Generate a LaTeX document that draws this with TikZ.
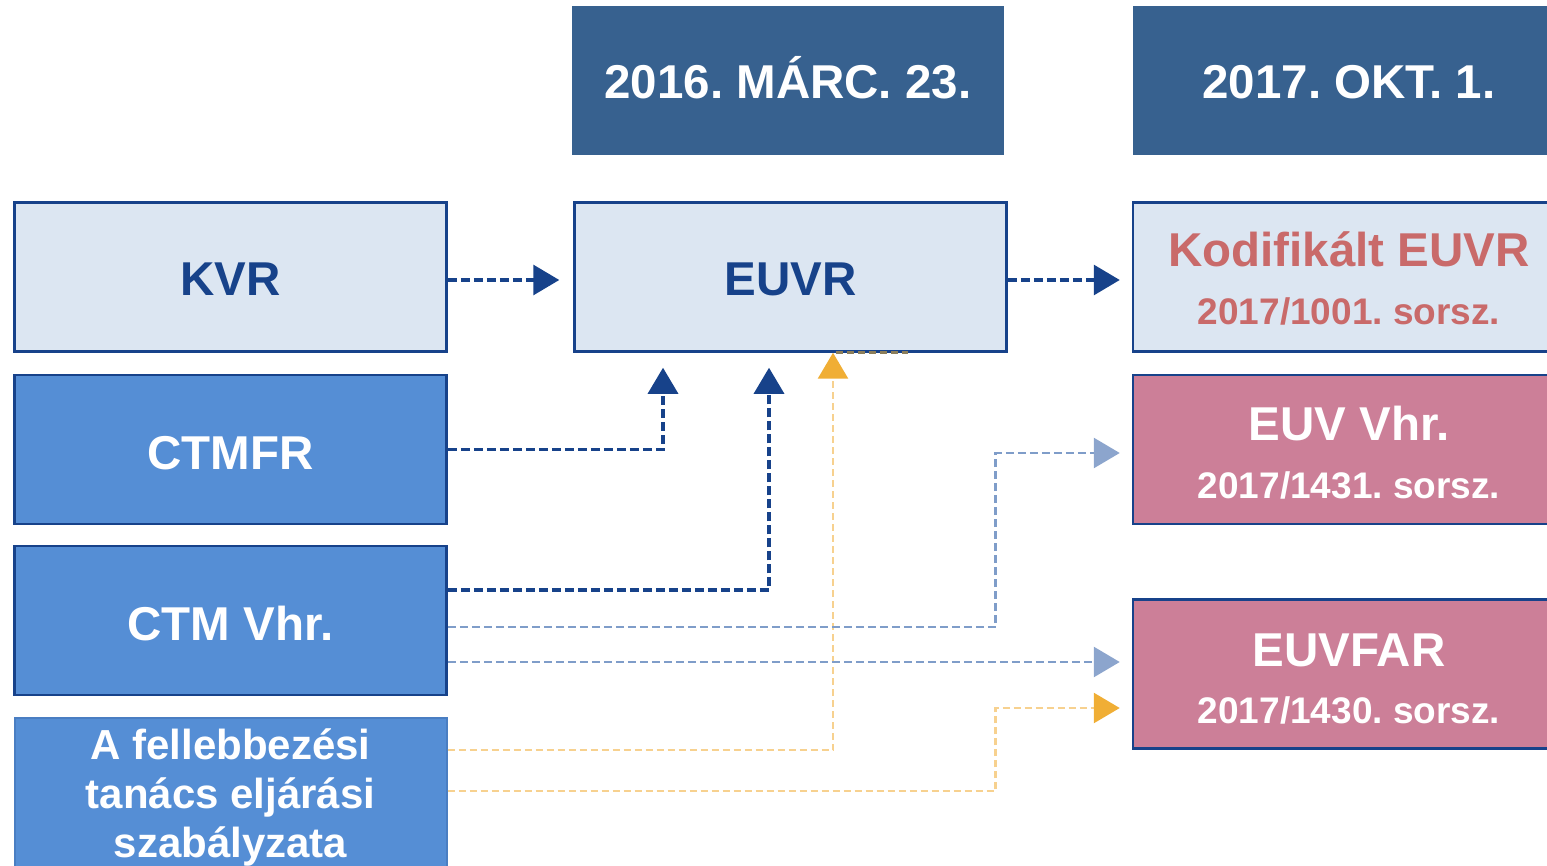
\documentclass[tikz,border=0pt]{standalone}
\usepackage{fontspec}
\setmainfont{Liberation Sans}
\usetikzlibrary{arrows.meta}
\frenchspacing
\definecolor{datebg}{HTML}{37618F}
\definecolor{lightbg}{HTML}{DCE6F2}
\definecolor{darkblue}{HTML}{17428A}
\definecolor{midblue}{HTML}{558ED5}
\definecolor{midborder}{HTML}{4A7EC2}
\definecolor{pinkbg}{HTML}{CC7F98}
\definecolor{redtext}{HTML}{C96A6A}
\definecolor{lbline}{HTML}{7F9DC9}
\definecolor{lbhead}{HTML}{8CA5CD}
\definecolor{yline}{HTML}{F7D18F}
\definecolor{yhead}{HTML}{F0AE35}
\definecolor{olive}{HTML}{8C7E5A}
\tikzset{
  datebox/.style={rectangle, fill=datebg, minimum width=432pt, minimum height=149pt, inner sep=0pt},
  lightbox/.style={rectangle, fill=lightbg, draw=darkblue, line width=2.5pt, minimum width=432pt, minimum height=149pt, inner sep=0pt},
  bluebox/.style={rectangle, fill=midblue, draw=darkblue, line width=2.5pt, minimum width=432pt, minimum height=149pt, inner sep=0pt},
  blueboxb/.style={rectangle, fill=midblue, draw=midborder, line width=2pt, minimum width=432pt, minimum height=149pt, inner sep=0pt},
  pinkbox/.style={rectangle, fill=pinkbg, draw=darkblue, line width=2.5pt, minimum width=432pt, minimum height=149pt, inner sep=0pt},
  big/.style={anchor=base, inner sep=0pt, font=\fontsize{47.5}{50}\selectfont\bfseries},
  small/.style={anchor=base, inner sep=0pt, font=\fontsize{37}{40}\selectfont\bfseries},
  mid/.style={anchor=base, inner sep=0pt, font=\fontsize{42}{45}\selectfont\bfseries},
  darrow/.style={draw=darkblue, line width=3.2pt, dash pattern=on 9pt off 4pt, -{Triangle[length=26pt,width=30pt,color=darkblue]}},
  larrow/.style={draw=lbline, line width=2.8pt, dash pattern=on 8pt off 4pt, -{Triangle[length=26pt,width=30pt,color=lbhead]}},
  yarrow/.style={draw=yline, line width=2.8pt, dash pattern=on 7pt off 4pt, -{Triangle[length=26pt,width=30pt,color=yhead]}},
}
\begin{document}
\begin{tikzpicture}[x=1pt,y=-1pt]
\useasboundingbox (0,0) rectangle (1547,866);
\clip (0,0) rectangle (1547,866);
% date boxes
\node[datebox] (d1) at (788,80.5) {};
\node[datebox] (d2) at (1349,80.5) {};
\node[big, text=white] (d1t) at (788,99) {2016. MÁRC. 23.};
\node[big, text=white] (d2t) at (1349,99) {2017. OKT. 1.};
% left column
\node[lightbox] (kvr) at (230.5,277) {};
\node[big, text=darkblue] (kvrt) at (230.5,296) {KVR};
\node[bluebox] (ctmfr) at (230.5,449.5) {};
\node[big, text=white] (ctmfrt) at (230.5,469) {CTMFR};
\node[bluebox] (ctmvhr) at (230.5,620.5) {};
\node[big, text=white] (ctmvhrt) at (230.5,640) {CTM Vhr.};
\node[blueboxb] (fell) at (230.5,792) {};
\node[mid, text=white] (fellt1) at (230.5,759) {A fellebbezési};
\node[mid, text=white] (fellt2) at (230.5,808) {tanács eljárási};
\node[mid, text=white] (fellt3) at (230.5,857) {szabályzata};
% middle
\node[lightbox] (euvr) at (790.5,277) {};
\node[big, text=darkblue] (euvrt) at (790.5,296) {EUVR};
% right column
\node[lightbox] (kod) at (1349,277) {};
\node[big, text=redtext] (kodt1) at (1349,267) {Kodifikált EUVR};
\node[small, text=redtext] (kodt2) at (1349,325) {2017/1001. sorsz.};
\node[pinkbox] (euvvhr) at (1349,449.5) {};
\node[big, text=white] (euvvhrt1) at (1349,440) {EUV Vhr.};
\node[small, text=white] (euvvhrt2) at (1349,498) {2017/1431. sorsz.};
\node[pinkbox] (euvfar) at (1349,674) {};
\node[big, text=white] (euvfart1) at (1349,666) {EUVFAR};
\node[small, text=white] (euvfart2) at (1349,723) {2017/1430. sorsz.};
% connectors
\draw[darrow] ([shift={(0,3)}]kvr.east) -- ([shift={(-14,3)}]euvr.west);
\draw[darrow] ([shift={(0,3)}]euvr.east) -- ([shift={(-12,3)}]kod.west);
\draw[darrow] (ctmfr.east) -| ([shift={(-127.5,15)}]euvr.south);
\draw[darrow] ([shift={(0,-30.5)}]ctmvhr.east) -| ([shift={(-21.5,15)}]euvr.south);
\draw[yarrow] ([shift={(0,-42)}]fell.east) -| ([shift={(42.5,0)}]euvr.south);
\draw[olive, line width=2.5pt, dash pattern=on 7pt off 4pt] ([shift={(45,0)}]euvr.south) -- ([shift={(117,0)}]euvr.south);
\draw[larrow] ([shift={(0,6.5)}]ctmvhr.east) -| ([shift={(-136,3.5)}]euvvhr.west) -- ([shift={(-12,3.5)}]euvvhr.west);
\draw[larrow] ([shift={(0,41.5)}]ctmvhr.east) -- ([shift={(-12,-12)}]euvfar.west);
\draw[yarrow] ([shift={(0,-1)}]fell.east) -| ([shift={(-136,34)}]euvfar.west) -- ([shift={(-12,34)}]euvfar.west);
\end{tikzpicture}
\end{document}
